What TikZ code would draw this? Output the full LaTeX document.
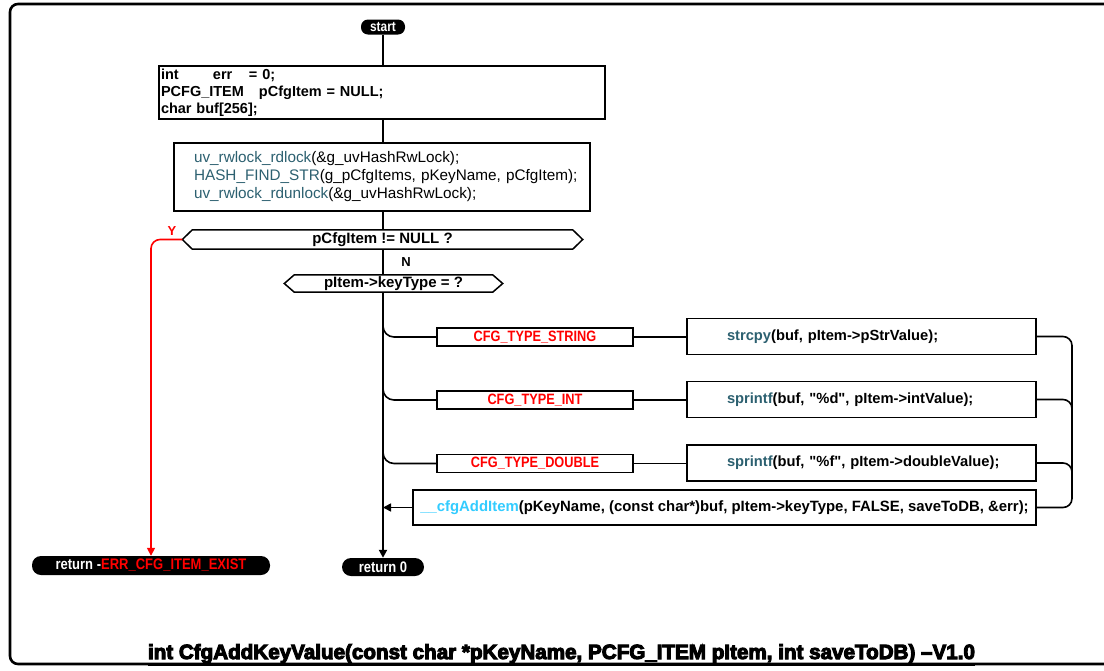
\documentclass[tikz,border=0pt]{standalone}
\usepackage{fontspec}
\usepackage{graphicx}
\setmainfont{Liberation Sans}
\newfontfamily\codefont{Liberation Sans}
\newfontfamily\narrowfont[FakeStretch=0.85]{Liberation Sans}
\newfontfamily\heavyfont[FakeBold=5,UprightFont={* Bold}]{Liberation Sans}
\usetikzlibrary{arrows.meta}
\definecolor{fnteal}{RGB}{44,96,112}
\definecolor{fncyan}{RGB}{51,204,255}
\definecolor{errred}{RGB}{255,0,0}

% outline of a decision node: a box with pointed ends
\newcommand\hexoutline[1]{%
  \draw[line width=1.5pt]
    ([xshift=10pt]#1.north west) -- ([xshift=-10pt]#1.north east)
    -- (#1.east) -- ([xshift=-10pt]#1.south east)
    -- ([xshift=10pt]#1.south west) -- (#1.west) -- cycle;}

\tikzset{
  flow/.style={line width=2.5pt, black},
  branch/.style={line width=1.6pt, black},
  tip/.style={-{Triangle[length=8pt,width=8pt]}},
  box/.style={draw, line width=1.5pt, inner sep=0pt, fill=white},
  codebox/.style={box, font=\codefont\bfseries\fontsize{14.5}{17}\selectfont, align=left},
  casebox/.style={box, minimum width=196pt, minimum height=18pt, text=errred,
    font=\narrowfont\bfseries\fontsize{15}{15}\selectfont},
  actbox/.style={box, minimum width=349pt, minimum height=36pt, text width=309pt,
    inner xsep=20pt, align=left, font=\codefont\bfseries\fontsize{14.7}{17}\selectfont},
  term/.style={fill=black, text=white, inner sep=0pt, rounded corners=#1,
    font=\narrowfont\bfseries\fontsize{15.3}{15}\selectfont},
  term/.default=9pt,
  hexa/.style={inner sep=0pt, font=\codefont\bfseries\fontsize{15}{15}\selectfont},
  flag/.style={font=\codefont\bfseries\fontsize{13}{13}\selectfont}
}

\begin{document}
\begin{tikzpicture}[x=1pt, y=-1pt]
\clip (0,0) rectangle (1104,670);
\fill[white] (0,0) rectangle (1104,670);

% outer frame, open to the right
\draw[line width=2.6pt, rounded corners=8pt] (1120,4) -- (10,4) -- (10,664) -- (1120,664);

% terminals
\node[term=7pt, minimum width=44pt, minimum height=15pt,
      font=\narrowfont\bfseries\fontsize{14}{14}\selectfont] (start) at (383,27) {start};
\node[term, minimum width=238pt, minimum height=19pt] (reterr) at (151,565.5)
  {return -\textcolor{errred}{ERR\_CFG\_ITEM\_EXIST}};
\node[term, minimum width=82pt, minimum height=18pt] (ret0) at (383,567) {return 0};

% declarations
\node[codebox, minimum width=446pt, minimum height=53pt, text width=442pt, inner xsep=2pt]
  (decl) at (382,92.5)
  {\makebox[52pt][l]{int}\makebox[36pt][l]{err}= 0;\\
   \makebox[98pt][l]{PCFG\_ITEM}pCfgItem = NULL;\\
   char buf[256];};

% hash lookup
\node[box, minimum width=416pt, minimum height=68pt, text width=400pt, inner xsep=8pt,
      align=left, font=\codefont\fontsize{15.3}{18}\selectfont] (lookup) at (382,177)
  {\hspace*{12pt}\textcolor{fnteal}{uv\_rwlock\_rdlock}(\&g\_uvHashRwLock);\\
   \hspace*{12pt}\textcolor{fnteal}{HASH\_FIND\_STR}(g\_pCfgItems, pKeyName, pCfgItem);\\
   \hspace*{12pt}\textcolor{fnteal}{uv\_rwlock\_rdunlock}(\&g\_uvHashRwLock);};

% decisions
\node[hexa, minimum width=400pt, minimum height=19pt] (found) at (382.5,239.5) {pCfgItem != NULL ?};
\node[hexa, minimum width=218pt, minimum height=17pt] (ktype) at (393.5,283.5) {pItem->keyType = ?};
\hexoutline{found}
\hexoutline{ktype}

% switch cases
\node[casebox] (c1) at (535,337) {CFG\_TYPE\_STRING};
\node[casebox] (c2) at (535,400) {CFG\_TYPE\_INT};
\node[casebox] (c3) at (535,463.5) {CFG\_TYPE\_DOUBLE};

% case actions
\node[actbox] (a1) at (861.5,336.5) {\hspace*{20pt}\textcolor{fnteal}{strcpy}(buf, pItem->pStrValue);};
\node[actbox] (a2) at (861.5,399.5) {\hspace*{20pt}\textcolor{fnteal}{sprintf}(buf, "\%d", pItem->intValue);};
\node[actbox] (a3) at (861.5,463) {\hspace*{20pt}\textcolor{fnteal}{sprintf}(buf, "\%f", pItem->doubleValue);};

% store the item
\node[box, minimum width=623pt, minimum height=35pt,
      font=\codefont\bfseries\fontsize{14.9}{17}\selectfont] (add) at (724.5,507.5)
  {\textcolor{fncyan}{\_\_cfgAddItem}(pKeyName, (const char*)buf, pItem->keyType, FALSE, saveToDB, \&err);};

% junction points
\coordinate (j1) at (383,312);
\coordinate (j2) at (383,375);
\coordinate (j3) at (383,438);
\coordinate (rb1) at (1072,420);
\coordinate (rb2) at (1072,485);

% main flow
\draw[flow] (start.south) -- (start |- decl.north);
\draw[flow] (start |- decl.south) -- (start |- lookup.north);
\draw[flow] (start |- lookup.south) -- (start |- found.north);
\draw[flow] (start |- found.south) -- (start |- ktype.north);
\draw[flow, tip] (start |- ktype.south) -- (ret0.north);

% yes branch
\draw[line width=1.6pt, errred, rounded corners=9pt, tip] (found.west) -| (reterr.north);
\node[flag, text=errred] (yes) at (172,231) {Y};
\node[flag] (no) at (406,262) {N};

% case branches
\draw[branch, rounded corners=11pt] (j1) |- (c1.west);
\draw[branch, rounded corners=11pt] (j2) |- (c2.west);
\draw[branch, rounded corners=11pt] (j3) |- (c3.west);
\draw[branch] (c1.east) -- (c1.east -| a1.west);
\draw[branch] (c2.east) -- (c2.east -| a2.west);
\draw[branch] (c3.east) -- (c3.east -| a3.west);

% merge into __cfgAddItem
\draw[branch, rounded corners=9pt] (a1.east) -| (rb1) |- (add.east);
\draw[branch, rounded corners=9pt] (a2.east) -| (rb1);
\draw[branch, rounded corners=9pt] (a3.east) -| (rb2);
\draw[branch, tip] (add.west) -- (add.west -| start);

% signature
\node[anchor=base, inner sep=0pt] (sig) at (561.5,659)
  {\resizebox{827pt}{!}{\heavyfont\fontsize{18}{18}\selectfont\underline{int CfgAddKeyValue(const char *pKeyName, PCFG\_ITEM pItem, int saveToDB) –V1.0}}};
\end{tikzpicture}
\end{document}
